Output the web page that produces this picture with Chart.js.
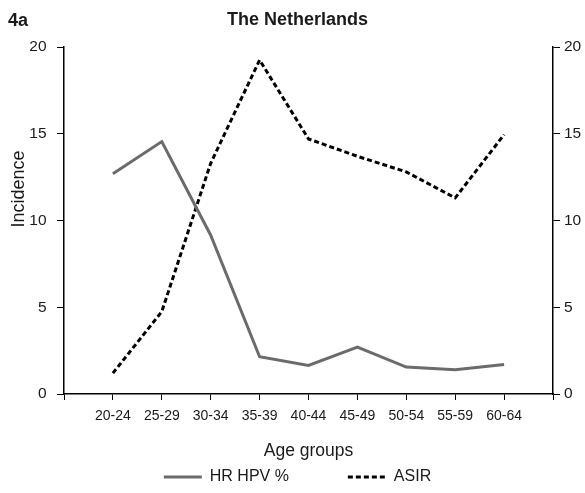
<!DOCTYPE html>
<html>
<head>
<meta charset="utf-8">
<script src="https://cdn.jsdelivr.net/npm/chart.js@4.4.1/dist/chart.umd.min.js"></script>
<style>
html,body{margin:0;padding:0;background:#ffffff;}
#wrap{width:585px;height:493px;}
</style>
</head>
<body>
<div id="wrap"><canvas id="c" width="585" height="493"></canvas></div>
<script>
// ---- data ----
const ageGroups = ['20-24','25-29','30-34','35-39','40-44','45-49','50-54','55-59','60-64'];
const hrHpv = [12.7, 14.55, 9.15, 2.15, 1.65, 2.7, 1.55, 1.4, 1.7];
const asir  = [1.2, 4.75, 13.3, 19.25, 14.7, 13.7, 12.8, 11.3, 14.95];
const yTicks = [0, 5, 10, 15, 20];
const seriesNames = ['HR HPV %', 'ASIR'];
const chartTitle = 'The Netherlands';
const panelLabel = '4a';
const xTitle = 'Age groups';
const yTitle = 'Incidence';

const FONT = '"Liberation Sans", Arial, sans-serif';
const TXT = '#1a1a1a';
const ASIR_DASH = [5, 3];

const toPoints = arr => arr.map((v, i) => ({x: i + 1, y: v}));

const extraText = {
  id: 'extraText',
  afterDraw(chart) {
    const ctx = chart.ctx;
    ctx.save();
    ctx.fillStyle = TXT;
    ctx.font = 'bold 18px ' + FONT;
    ctx.textBaseline = 'middle';
    ctx.textAlign = 'left';
    ctx.fillText(panelLabel, 8, 21);
    ctx.translate(19, 189);
    ctx.rotate(-Math.PI / 2);
    ctx.font = '18px ' + FONT;
    ctx.textAlign = 'center';
    ctx.fillText(yTitle, 0, 0);
    ctx.restore();
  }
};

const xGrid = {drawOnChartArea: false, drawTicks: true, tickLength: 6, color: '#000', lineWidth: 1};
const yGrid = {drawOnChartArea: false, drawTicks: true, tickLength: 7, color: '#000', lineWidth: 1};
const axisBorder = {display: true, color: '#000', width: 1.5};
const setYTicks = s => { s.ticks = yTicks.map(v => ({value: v})); };

new Chart(document.getElementById('c'), {
  type: 'line',
  data: {
    datasets: [
      {
        label: seriesNames[0],
        data: toPoints(hrHpv),
        borderColor: '#6b6b6b',
        backgroundColor: '#6b6b6b',
        borderWidth: 3,
        pointRadius: 0,
        tension: 0,
        yAxisID: 'y'
      },
      {
        label: seriesNames[1],
        data: toPoints(asir),
        borderColor: '#000000',
        backgroundColor: '#000000',
        borderWidth: 3,
        borderDash: ASIR_DASH,
        pointRadius: 0,
        tension: 0,
        yAxisID: 'y2'
      }
    ]
  },
  options: {
    responsive: false,
    animation: false,
    devicePixelRatio: 1,
    layout: {padding: {left: 10, right: 0, top: 0, bottom: -2}},
    scales: {
      x: {
        type: 'linear',
        min: 0,
        max: 10,
        grid: xGrid,
        border: axisBorder,
        afterBuildTicks: s => { s.ticks = Array.from({length: ageGroups.length + 2}, (_, i) => ({value: i})); },
        ticks: {
          autoSkip: false,
          maxRotation: 0,
          padding: 9,
          color: TXT,
          font: {family: FONT, size: 14, lineHeight: 1},
          callback: v => ageGroups[v - 1] || ''
        },
        title: {
          display: true,
          text: xTitle,
          color: TXT,
          font: {family: FONT, size: 17.5, lineHeight: 1},
          padding: {top: 10.25, bottom: -0.75}
        }
      },
      y: {
        position: 'left',
        min: 0,
        max: 20,
        grid: yGrid,
        border: axisBorder,
        afterBuildTicks: setYTicks,
        afterFit: s => { s.width = 54; },
        ticks: {padding: 10.5, color: TXT, font: {family: FONT, size: 15.5}}
      },
      y2: {
        position: 'right',
        min: 0,
        max: 20,
        grid: yGrid,
        border: axisBorder,
        afterBuildTicks: setYTicks,
        afterFit: s => { s.width = 32; },
        ticks: {padding: 4, color: TXT, font: {family: FONT, size: 15.5}}
      }
    },
    plugins: {
      title: {
        display: true,
        text: chartTitle,
        color: TXT,
        font: {family: FONT, size: 18, weight: 'bold', lineHeight: 1.2},
        padding: {top: 9.2, bottom: 16.2}
      },
      legend: {
        position: 'bottom',
        labels: {
          usePointStyle: true,
          pointStyle: 'line',
          pointStyleWidth: 38,
          padding: 10,
          color: TXT,
          font: {family: FONT, size: 16},
          generateLabels: chart => {
            const items = Chart.defaults.plugins.legend.labels.generateLabels(chart);
            items.forEach(it => { it.lineWidth = 3; });
            items[0].text = items[0].text + '           ';
            items[1].lineDash = ASIR_DASH;
            return items;
          }
        }
      },
      tooltip: {enabled: false}
    }
  },
  plugins: [extraText]
});
</script>
</body>
</html>
